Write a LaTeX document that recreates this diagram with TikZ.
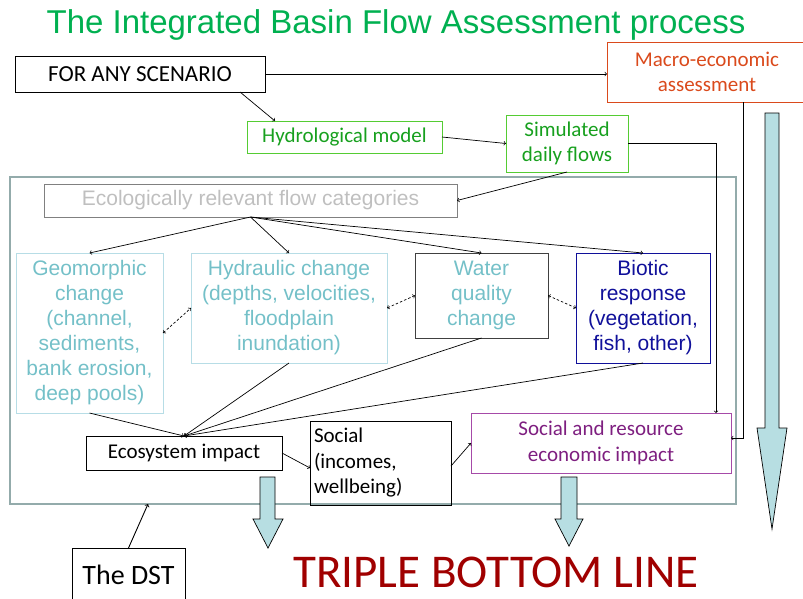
\documentclass[tikz,border=0pt]{standalone}
\usepackage{fontspec}
\setmainfont{Carlito}
\newfontfamily\arialfont{Liberation Sans}
\usepackage{xcolor}
\usetikzlibrary{positioning,calc,arrows}

\definecolor{titlegreen}{HTML}{00B050}
\definecolor{hydgreen}{HTML}{55CC33}
\definecolor{hydtext}{HTML}{17A01E}
\definecolor{macrored}{HTML}{DA4A1C}
\definecolor{framegray}{HTML}{93ABAB}
\definecolor{catgray}{HTML}{808080}
\definecolor{cattext}{HTML}{BFBFBF}
\definecolor{lightteal}{HTML}{B7DDE6}
\definecolor{tealtext}{HTML}{74C0C8}
\definecolor{bioblue}{HTML}{10109A}
\definecolor{srpurple}{HTML}{A64AA8}
\definecolor{srtext}{HTML}{7E1F80}
\definecolor{tblred}{HTML}{A00000}
\definecolor{arrowfill}{HTML}{B7DEE2}

\begin{document}
\begin{tikzpicture}[x=1pt,y=-1pt,every node/.style={outer sep=0pt,inner sep=0pt,align=center}]
\tikzstyle{box}=[draw,line width=0.9pt,font=\fontsize{21}{25.5}\selectfont]
\tikzstyle{abox}=[draw,line width=0.9pt,font=\arialfont\fontsize{21}{25}\selectfont]
\tikzstyle{link}=[->,line width=0.7pt]
\tikzstyle{twoway}=[<->,dash pattern=on 2.5pt off 2pt,line width=0.7pt]
\tikzstyle{bigarrow}=[draw,line width=0.7pt,fill=arrowfill]
\useasboundingbox (0,0) rectangle (803,598);

% title
\node (title) at (396,25) [font=\arialfont\fontsize{33}{38}\selectfont,text=titlegreen]
  {The Integrated Basin Flow Assessment process};

% top row
\node (scen) [box,font=\fontsize{23}{27}\selectfont,minimum width=250,minimum height=36] at (140,74) {FOR ANY SCENARIO};
\node (macro) [box,draw=macrored,text=macrored,minimum width=200,minimum height=60] at (707,72)
  {Macro-economic\\assessment};
\node (hydro) [box,draw=hydgreen,text=hydtext,minimum width=195,minimum height=32] at (344.5,137)
  {Hydrological model};
\node (sim) [box,draw=hydgreen,text=hydtext,minimum width=122,minimum height=57] at (567,143.5)
  {Simulated\\daily flows};

% frame
\node (frame) [draw=framegray,line width=2pt,minimum width=726,minimum height=327] at (373,340.5) {};

% ecological part
\node (cat) [abox,draw=catgray,text=cattext,minimum width=413,minimum height=33] at (250.5,200.5)
  {Ecologically relevant flow categories};
\node (geo) [abox,draw=lightteal,text=tealtext,minimum width=147,minimum height=160] at (89.5,333)
  {Geomorphic\\change\\(channel,\\sediments,\\bank erosion,\\deep pools)};
\node (hydr) [abox,draw=lightteal,text=tealtext,minimum width=196,minimum height=110] at (289,308)
  {Hydraulic change\\(depths, velocities,\\floodplain\\inundation)};
\node (wq) [abox,draw=black!75,text=tealtext,minimum width=133,minimum height=85] at (481.5,295.5)
  {Water\\quality\\change};
\node (bio) [abox,draw=bioblue,text=bioblue,minimum width=134,minimum height=110] at (643,308)
  {Biotic\\response\\(vegetation,\\fish, other)};

% impacts
\node (eco) [box,minimum width=196,minimum height=34] at (184,453) {Ecosystem impact};
\node (soc) [box,minimum width=141,minimum height=84,align=left,text width=133] at (380.5,463)
  {Social\\(incomes,\\wellbeing)};
\node (sr) [box,draw=srpurple,text=srtext,minimum width=260,minimum height=60] at (601,443)
  {Social and resource\\economic impact};

% bottom
\node (dst) [box,font=\fontsize{28}{32}\selectfont,minimum width=113,minimum height=54] at (128.5,575) {The DST};
\node (tbl) [text=tblred,font=\fontsize{47}{52}\selectfont] at (496,572) {TRIPLE BOTTOM LINE};

% connectors
\draw [link] (scen.east) -- (scen.east -| macro.west);
\draw [link] ([xshift=-25pt]scen.south east) -- ([xshift=28pt]hydro.north west);
\draw [link] (hydro.east) -- (sim.west);
\draw [link] (sim.east) -| ([xshift=-15pt]sr.north east);
\draw [link] (sim.south) -- (cat.east);
\draw [link] (cat.south) -- (geo.north);
\draw [link] (cat.south) -- (hydr.north);
\draw [link] (cat.south) -- (wq.north);
\draw [link] (cat.south) -- (bio.north);
\draw [twoway] (geo.east) -- (hydr.west);
\draw [twoway] (hydr.east) -- (wq.west);
\draw [twoway] (wq.east) -- (bio.west);
\draw [link] (geo.south) -- (eco.north);
\draw [link] (hydr.south) -- (eco.north);
\draw [link] (wq.south) -- (eco.north);
\draw [link] (bio.south) -- (eco.north);
\draw [link] (eco.east) -- ([yshift=-5pt]soc.west);
\draw [link] ([yshift=-3pt]soc.east) -- (sr.west);
\draw [link] ([xshift=36pt]macro.south) |- ([yshift=5pt]sr.east);
\draw [link,line width=0.9pt] (dst.north) -- ([xshift=-225pt]frame.south);

% block arrows
\draw [bigarrow] (765,113) -- (779,113) -- (779,428) -- (787,428) -- (772,529)
  -- (757,428) -- (765,428) -- cycle;
\draw [bigarrow] (260,477) -- (275,477) -- (275,519) -- (283,519) -- (268,548)
  -- (253,519) -- (260,519) -- cycle;
\draw [bigarrow] (561,477) -- (577,477) -- (577,519) -- (583,519) -- (569,546)
  -- (555,519) -- (561,519) -- cycle;
\end{tikzpicture}
\end{document}
